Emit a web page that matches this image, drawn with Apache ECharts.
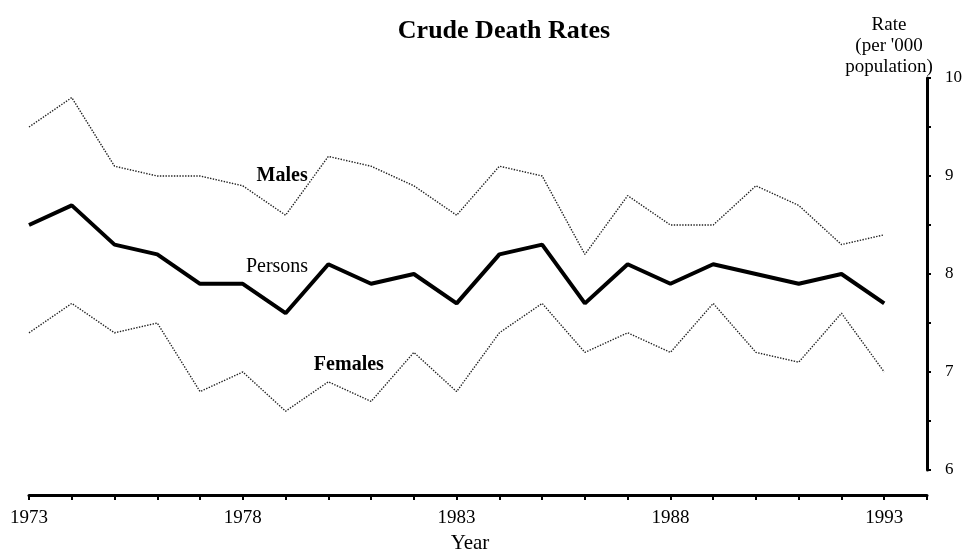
<!DOCTYPE html>
<html>
<head>
<meta charset="utf-8">
<title>Crude Death Rates</title>
<script src="https://cdn.jsdelivr.net/npm/echarts@6/dist/echarts.min.js"></script>
<style>
  html, body { margin: 0; padding: 0; background: #fff; }
  #chart { width: 966px; height: 551px; }
</style>
</head>
<body>
<div id="chart"></div>
<script>
// 数据
const years = [1973, 1974, 1975, 1976, 1977, 1978, 1979, 1980, 1981, 1982, 1983,
  1984, 1985, 1986, 1987, 1988, 1989, 1990, 1991, 1992, 1993];
const males = [9.5, 9.8, 9.1, 9.0, 9.0, 8.9, 8.6, 9.2, 9.1, 8.9, 8.6,
  9.1, 9.0, 8.2, 8.8, 8.5, 8.5, 8.9, 8.7, 8.3, 8.4];
const persons = [8.5, 8.7, 8.3, 8.2, 7.9, 7.9, 7.6, 8.1, 7.9, 8.0, 7.7,
  8.2, 8.3, 7.7, 8.1, 7.9, 8.1, 8.0, 7.9, 8.0, 7.7];
const females = [7.4, 7.7, 7.4, 7.5, 6.8, 7.0, 6.6, 6.9, 6.7, 7.2, 6.8,
  7.4, 7.7, 7.2, 7.4, 7.2, 7.7, 7.2, 7.1, 7.6, 7.0];
const yearLabels = [1973, 1978, 1983, 1988, 1993];
const rateLabels = [6, 7, 8, 9, 10];

const serif = 'Liberation Serif';
const pairs = arr => arr.map((v, i) => [years[i], v]);

// 线旁的名称标注
const tag = (name, coord, bold) => ({
  silent: true,
  symbol: 'circle',
  symbolSize: 1,
  itemStyle: { color: 'rgba(0,0,0,0)' },
  label: {
    show: true,
    position: 'inside',
    formatter: name,
    color: '#000',
    fontFamily: serif,
    fontSize: 20,
    fontWeight: bold ? 'bold' : 'normal'
  },
  data: [{ coord: coord }]
});

const chart = echarts.init(document.getElementById('chart'));

const option = {
  animation: false,
  backgroundColor: '#fff',
  title: [
    {
      text: 'Crude Death Rates',
      left: 499,
      top: 13,
      textAlign: 'center',
      textStyle: { fontFamily: serif, fontSize: 26, fontWeight: 'bold', color: '#000' }
    },
    {
      text: "Rate\n(per '000\npopulation)",
      left: 884,
      top: 10,
      textAlign: 'center',
      textStyle: { fontFamily: serif, fontSize: 19, fontWeight: 'normal', color: '#000', lineHeight: 21 }
    }
  ],
  // 固定绘图区, 不让标签挤压
  grid: { left: 29, right: 39, top: 78, bottom: 81, outerBoundsMode: 'none', containLabel: false },
  xAxis: {
    type: 'value',
    min: 1973,
    max: 1994,
    interval: 1,
    offset: 25,
    splitLine: { show: false },
    axisLine: { lineStyle: { color: '#000', width: 3 } },
    axisTick: { length: 5, lineStyle: { color: '#000', width: 2 } },
    axisLabel: {
      margin: 14,
      color: '#000',
      fontFamily: serif,
      fontSize: 19,
      formatter: v => (yearLabels.includes(v) ? String(v) : '')
    },
    name: 'Year',
    nameLocation: 'middle',
    nameGap: 38,
    nameTextStyle: { color: '#000', fontFamily: serif, fontSize: 21, padding: [0, 16, 0, 0] }
  },
  yAxis: {
    type: 'value',
    position: 'right',
    min: 6,
    max: 10,
    interval: 0.5,
    splitLine: { show: false },
    axisLine: { show: true, lineStyle: { color: '#000', width: 3 } },
    axisTick: { show: true, length: 4, lineStyle: { color: '#000', width: 2 } },
    axisLabel: {
      margin: 18,
      color: '#000',
      fontFamily: serif,
      fontSize: 17,
      formatter: v => (rateLabels.includes(v) ? String(v) : '')
    }
  },
  series: [
    {
      name: 'Males',
      type: 'line',
      symbol: 'none',
      data: pairs(males),
      lineStyle: { color: '#222', width: 1.4, type: 'dotted' },
      markPoint: tag('Males', [1978.92, 9.0], true)
    },
    {
      name: 'Persons',
      type: 'line',
      symbol: 'none',
      data: pairs(persons),
      lineStyle: { color: '#000', width: 4 },
      markPoint: tag('Persons', [1978.8, 8.07], false)
    },
    {
      name: 'Females',
      type: 'line',
      symbol: 'none',
      data: pairs(females),
      lineStyle: { color: '#222', width: 1.4, type: 'dotted' },
      markPoint: tag('Females', [1980.48, 7.07], true)
    }
  ]
};

chart.setOption(option);
window.addEventListener('resize', () => chart.resize());
</script>
</body>
</html>
